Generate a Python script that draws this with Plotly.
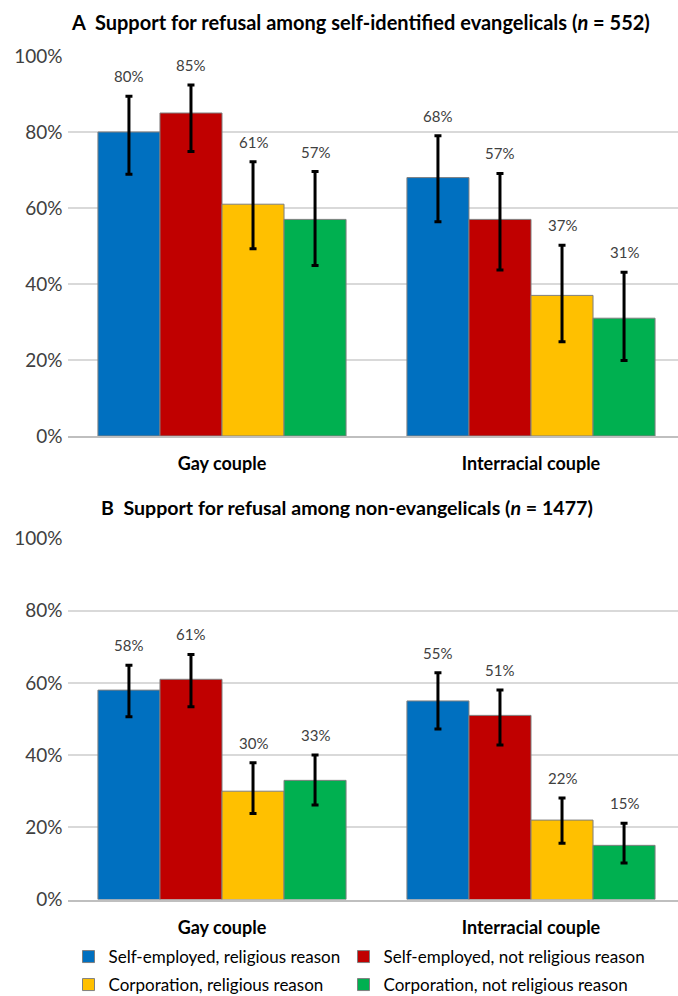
import plotly.graph_objects as go
from plotly.subplots import make_subplots

# Survey categories and series
categories = ["Gay couple", "Interracial couple"]
series_names = [
    "Self-employed, religious reason",
    "Self-employed, not religious reason",
    "Corporation, religious reason",
    "Corporation, not religious reason",
]
series_colors = ["#0070C0", "#C00000", "#FFC000", "#00B050"]

# Panel A: self-identified evangelicals (n = 552) — percent support, with CI bounds
a_values = [[80, 68], [85, 57], [61, 37], [57, 31]]
a_upper = [[89.4, 79.0], [92.4, 69.1], [72.2, 50.2], [69.6, 43.1]]
a_lower = [[68.9, 56.4], [74.9, 43.7], [49.3, 24.8], [44.9, 19.9]]

# Panel B: non-evangelicals (n = 1477)
b_values = [[58, 55], [61, 51], [30, 22], [33, 15]]
b_upper = [[64.9, 62.8], [67.9, 58.0], [37.9, 28.1], [40.0, 21.1]]
b_lower = [[50.6, 47.2], [53.4, 42.8], [23.8, 15.6], [26.2, 10.1]]

y_ticks = [0, 20, 40, 60, 80, 100]
y_tick_labels = ["0%", "20%", "40%", "60%", "80%", "100%"]

FONT = "Lato, 'Open Sans', sans-serif"
W, H = 678, 996
BARGAP = 0.197
n_series = len(series_names)
bar_w = (1 - BARGAP) / n_series

# one legend per entry so the 2x2 key can be laid out freely
legend_ids = ["legend", "legend2", "legend3", "legend4"]
legend_pos = [(68.5, 957), (343.5, 957), (68.5, 985), (343.5, 985)]

fig = make_subplots(rows=2, cols=1)

panels = [(1, a_values, a_upper, a_lower), (2, b_values, b_upper, b_lower)]
for row, values, upper, lower in panels:
    for i, name in enumerate(series_names):
        v = values[i]
        plus = [u - x for u, x in zip(upper[i], v)]
        minus = [x - l for x, l in zip(v, lower[i])]
        fig.add_trace(
            go.Bar(
                x=categories,
                y=v,
                name=name,
                marker=dict(color=series_colors[i], line=dict(color="#7F7F7F", width=1)),
                error_y=dict(
                    type="data", symmetric=False, array=plus, arrayminus=minus,
                    color="black", thickness=3, width=3.5,
                ),
                showlegend=(row == 1),
                legend=legend_ids[i],
                legendgroup=name,
                hoverinfo="skip",
            ),
            row=row, col=1,
        )
        # value labels placed above the upper CI bound
        xref = "x" if row == 1 else "x2"
        yref = "y" if row == 1 else "y2"
        for j, cat in enumerate(categories):
            fig.add_annotation(
                x=j + (i - (n_series - 1) / 2) * bar_w,
                y=upper[i][j],
                xref=xref, yref=yref,
                text=f"{v[j]}%",
                showarrow=False,
                yshift=20,
                yanchor="middle",
                font=dict(family=FONT, size=15, color="#404040"),
            )

# Plot-area geometry in pixels
left_px = 67.5
cat_px = 309.0
x_range = [-0.5, 1 + (W - (left_px + 1.5 * cat_px)) / cat_px]

def ydom(top_px, bottom_px):
    return [(H - bottom_px) / H, (H - top_px) / H]

axis_common = dict(
    range=[0, 100], tickvals=y_ticks, ticktext=y_tick_labels,
    showgrid=True, gridcolor="#D9D9D9", gridwidth=1.5,
    zeroline=False, showline=False, ticks="",
    tickfont=dict(family=FONT, size=19, color="#404040"),
    ticklabelstandoff=4, automargin=False,
)
fig.update_yaxes(domain=ydom(56, 436), **axis_common, row=1, col=1)
fig.update_yaxes(domain=ydom(538.5, 899.5), **axis_common, row=2, col=1)

xaxis_common = dict(
    range=x_range, domain=[left_px / W, 1.0],
    tickvals=categories, ticktext=[f"<b>{c}</b>" for c in categories],
    showline=True, linecolor="#BFBFBF", linewidth=1.5,
    ticks="outside", ticklen=11, tickcolor="rgba(0,0,0,0)",
    tickfont=dict(family=FONT, size=18, color="black"),
    showgrid=False, automargin=False,
)
fig.update_xaxes(**xaxis_common, row=1, col=1)
fig.update_xaxes(**xaxis_common, row=2, col=1)

# Panel titles
fig.add_annotation(
    x=360 / W, y=(H - 22) / H, xref="paper", yref="paper",
    text="<b>A  Support for refusal among self-identified evangelicals (<i>n</i> = 552)</b>",
    showarrow=False, xanchor="center", yanchor="middle",
    font=dict(family=FONT, size=20, color="black"),
)
fig.add_annotation(
    x=347 / W, y=(H - 507) / H, xref="paper", yref="paper",
    text="<b>B  Support for refusal among non-evangelicals (<i>n</i> = 1477)</b>",
    showarrow=False, xanchor="center", yanchor="middle",
    font=dict(family=FONT, size=19.6, color="black"),
)

legend_layout = {}
for lid, (lx, ly) in zip(legend_ids, legend_pos):
    legend_layout[lid] = dict(
        orientation="h", x=lx / W, y=(H - ly) / H,
        xanchor="left", yanchor="middle",
        font=dict(family=FONT, size=17, color="black"),
        itemwidth=30, bgcolor="rgba(0,0,0,0)",
    )

fig.update_layout(
    width=W, height=H,
    margin=dict(l=0, r=0, t=0, b=0, autoexpand=False),
    paper_bgcolor="white", plot_bgcolor="white",
    barmode="group", bargap=BARGAP, bargroupgap=0,
    font=dict(family=FONT),
    **legend_layout,
)

fig.write_html("out.html")
